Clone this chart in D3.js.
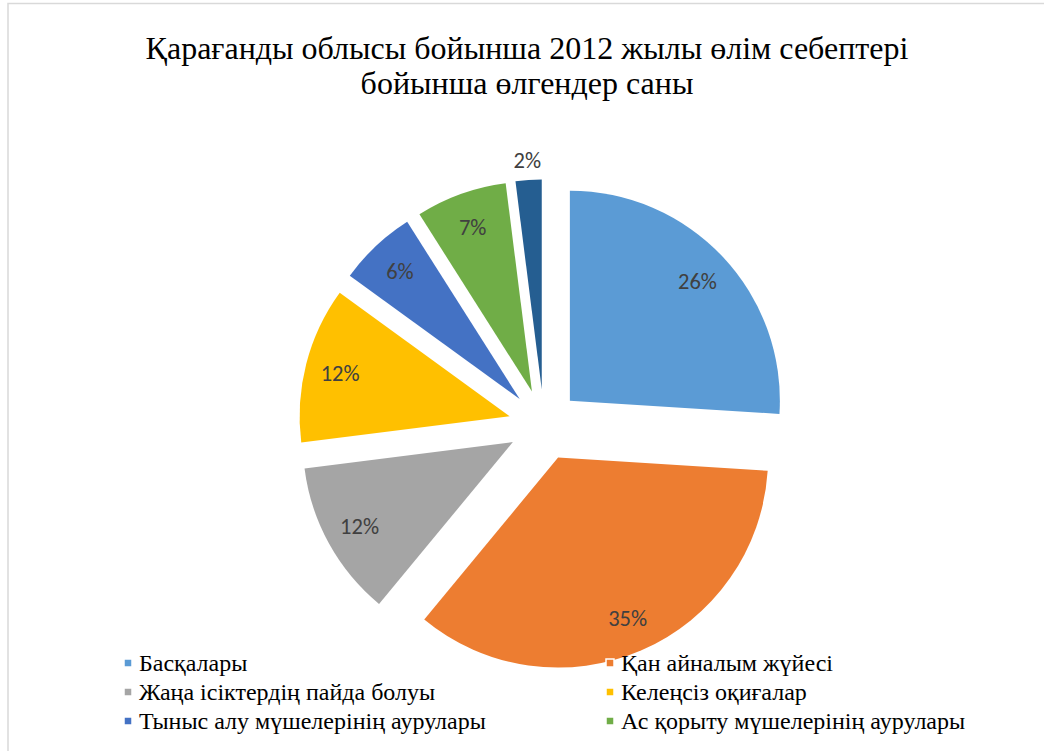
<!DOCTYPE html>
<html>
<head>
<meta charset="utf-8">
<script src="https://cdn.jsdelivr.net/npm/d3@7"></script>
<style>
  html, body { margin: 0; padding: 0; background: #fff; }
  svg { display: block; }
</style>
</head>
<body>
<svg id="chart" width="1044" height="751"></svg>
<script>
// Causes of death, Karaganda region, 2012 (share of deaths, %)
const categories = [
  "Басқалары",
  "Қан айналым жүйесі",
  "Жаңа ісіктердің пайда болуы",
  "Келеңсіз оқиғалар",
  "Тыныс алу мүшелерінің аурулары",
  "Ас қорыту мүшелерінің аурулары",
  "Жұқпалы аурулар"
];
const values = [26, 35, 12, 12, 6, 7, 2];
const colors = ["#5B9BD5", "#ED7D31", "#A5A5A5", "#FFC000", "#4472C4", "#70AD47", "#255E91"];
const titleLines = [
  "Қарағанды облысы бойынша 2012 жылы өлім себептері",
  "бойынша өлгендер саны"
];
// legend shows the first six entries; the last row falls outside the frame
const legendCount = 6;

const W = 1044, H = 751;
const svg = d3.select("#chart");

// chart area frame
svg.append("path")
  .attr("d", `M8,${H} L8,3.5 L${W},3.5`)
  .attr("fill", "none")
  .attr("stroke", "#d9d9d9")
  .attr("stroke-width", 1.5);

// title
svg.append("g").selectAll("text")
  .data(titleLines)
  .join("text")
  .attr("x", 527)
  .attr("y", (d, i) => 59 + i * 35)
  .attr("text-anchor", "middle")
  .attr("font-family", "'Liberation Serif', 'Times New Roman', serif")
  .attr("font-size", 32)
  .attr("fill", "#000")
  .text(d => d);

// exploded pie
const cx = 544, cy = 425, R = 210, explode = 35.5;
const pie = d3.pie().sort(null).value(d => d.v);
const arcs = pie(values.map((v, i) => ({ v, name: categories[i], color: colors[i] })));
const arc = d3.arc().innerRadius(0).outerRadius(R);
const labelArc = d3.arc().innerRadius(175).outerRadius(175);
const outerLabelArc = d3.arc().innerRadius(R + 20).outerRadius(R + 20);

const pieG = svg.append("g").attr("transform", `translate(${cx},${cy})`);

const slice = pieG.selectAll("g.slice")
  .data(arcs)
  .join("g")
  .attr("class", "slice")
  .attr("transform", d => {
    const m = (d.startAngle + d.endAngle) / 2;
    return `translate(${explode * Math.sin(m)},${-explode * Math.cos(m)})`;
  });

slice.append("path")
  .attr("d", arc)
  .attr("fill", d => d.data.color);

slice.append("text")
  .attr("transform", d => {
    const small = (d.endAngle - d.startAngle) < 0.2;
    const p = (small ? outerLabelArc : labelArc).centroid(d);
    return `translate(${p[0]},${p[1]})`;
  })
  .attr("text-anchor", "middle")
  .attr("dy", "0.35em")
  .attr("font-family", "Carlito, Calibri, Lato, sans-serif")
  .attr("font-size", 22.5)
  .attr("fill", "#404040")
  .text(d => d.data.v + "%");

// legend, two columns
const legendItems = categories.slice(0, legendCount).map((c, i) => ({ name: c, color: colors[i], i }));
const legend = svg.append("g");
const item = legend.selectAll("g")
  .data(legendItems)
  .join("g")
  .attr("transform", d => `translate(${d.i % 2 === 0 ? 124 : 606},${663 + Math.floor(d.i / 2) * 29})`);

item.append("rect")
  .attr("x", 0).attr("y", -4)
  .attr("width", 8).attr("height", 8)
  .attr("fill", d => d.color)
  .attr("stroke", "#fff")
  .attr("stroke-width", 1.5);

item.append("text")
  .attr("x", 15)
  .attr("dy", "0.35em")
  .attr("font-family", "'Liberation Serif', 'Times New Roman', serif")
  .attr("font-size", 24)
  .attr("fill", "#000")
  .text(d => d.name);
</script>
</body>
</html>
